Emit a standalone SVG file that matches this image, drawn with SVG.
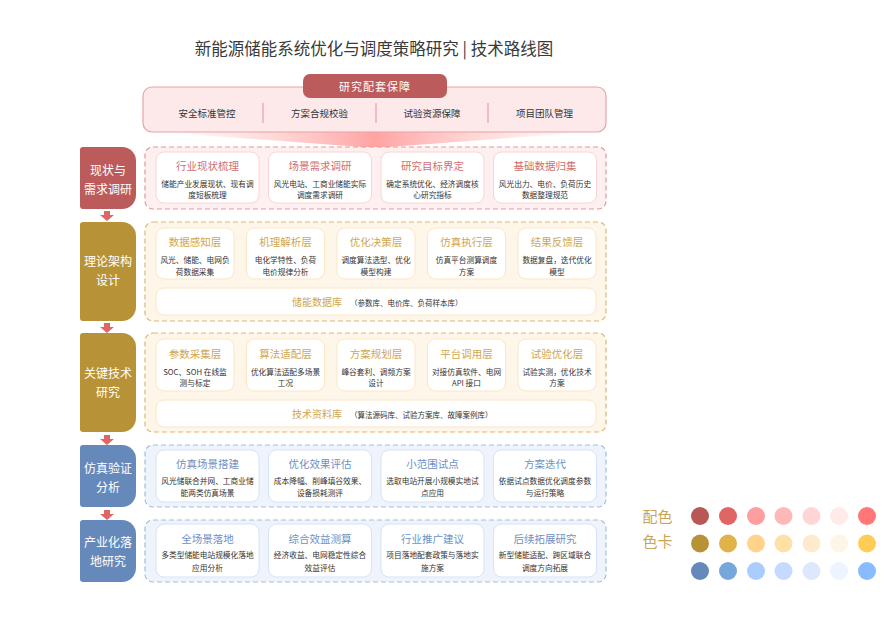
<svg xmlns="http://www.w3.org/2000/svg" width="896" height="617" viewBox="0 0 896 617">
<defs>
<style>
text{font-family:"Noto Sans CJK SC","Noto Sans",sans-serif;dominant-baseline:central;text-anchor:middle}
.title{font-size:16.5px;fill:#3a3a3a}
.tab{font-size:11px;fill:#fff;letter-spacing:1px}
.top{font-size:9.5px;fill:#333}
.bar{font-size:12px;fill:#fff}
.ct{font-size:10.5px}
.cd{font-size:7.7px;fill:#333}
.r1 .ct{fill:#d06e6e}.r2 .ct,.r3 .ct{fill:#cfa64f}.r4 .ct,.r5 .ct{fill:#6f90c2}
.cont{stroke-width:1.2;stroke-dasharray:5 3}
.r1 .cont{fill:#fef0f1;stroke:#e39797}
.r2 .cont,.r3 .cont{fill:#fff6ea;stroke:#dcb877}
.r4 .cont,.r5 .cont{fill:#eef3fc;stroke:#a6bde2}
.card{fill:#fff;stroke-width:1}
.r1 .card{stroke:#fad4d4}.r2 .card,.r3 .card{stroke:#fde6c6}.r4 .card,.r5 .card{stroke:#d6e3f8}
.lib{font-size:10px;fill:#cfa64f;text-anchor:start}
.libs{font-size:7.5px;fill:#333}
.pal{font-size:15px;fill:#c9a457}
.rarrow{fill:#e06666}
.garrow{fill:#e3b24a}
</style>
<linearGradient id="fun" x1="0" x2="1" y1="0" y2="0">
<stop offset="0" stop-color="#ffc8c8" stop-opacity="0"/>
<stop offset="0.5" stop-color="#ffa3a3"/>
<stop offset="1" stop-color="#ffc8c8" stop-opacity="0"/>
</linearGradient>
</defs>
<rect width="896" height="617" fill="#fff"/>
<text class="title" x="374" y="48">新能源储能系统优化与调度策略研究 | 技术路线图</text>

<g id="support">
<polygon points="160,132 590,132 375,148" fill="url(#fun)"/>
<rect x="143" y="87" width="463" height="45" rx="9" fill="#fde9ea" stroke="#e9a2a5" stroke-width="1.2"/>
<rect x="303" y="74" width="144" height="24" rx="7" fill="#bb5b5b"/>
<text class="tab" x="375" y="86">研究配套保障</text>
<g stroke="#e6a3a3" stroke-width="1.2">
<line x1="263" y1="103" x2="263" y2="123"/><line x1="376" y1="103" x2="376" y2="123"/><line x1="488" y1="103" x2="488" y2="123"/>
</g>
<text class="top" x="207" y="113">安全标准管控</text>
<text class="top" x="319.5" y="113">方案合规校验</text>
<text class="top" x="432" y="113">试验资源保障</text>
<text class="top" x="544.5" y="113">项目团队管理</text>
</g>

<g id="connectors">
<path class="rarrow" d="M104,211h6v4h4l-7,6l-7,-6h4z"/>
<path class="rarrow" d="M104,323h6v4h4l-7,6l-7,-6h4z"/>
<path class="rarrow" d="M104,435h6v4h4l-7,6l-7,-6h4z"/>
<path class="rarrow" d="M104,510h6v4h4l-7,6l-7,-6h4z"/>
<path class="garrow" d="M236,252.5h4v-3l4.5,4.5l-4.5,4.5v-3h-4z"/>
<path class="garrow" d="M326.5,252.5h4v-3l4.5,4.5l-4.5,4.5v-3h-4z"/>
<path class="garrow" d="M417,252.5h4v-3l4.5,4.5l-4.5,4.5v-3h-4z"/>
<path class="garrow" d="M507.5,252.5h4v-3l4.5,4.5l-4.5,4.5v-3h-4z"/>
<path class="garrow" d="M236,363.5h4v-3l4.5,4.5l-4.5,4.5v-3h-4z"/>
<path class="garrow" d="M326.5,363.5h4v-3l4.5,4.5l-4.5,4.5v-3h-4z"/>
<path class="garrow" d="M417,363.5h4v-3l4.5,4.5l-4.5,4.5v-3h-4z"/>
<path class="garrow" d="M507.5,363.5h4v-3l4.5,4.5l-4.5,4.5v-3h-4z"/>
</g>

<g id="row1" class="r1">
<path d="M80,150a3,3 0 0 1 3,-3H122a14,14 0 0 1 14,14V195a14,14 0 0 1 -14,14H83a3,3 0 0 1 -3,-3Z" fill="#bb5b5b"/>
<text class="bar" x="108" y="169">现状与</text>
<text class="bar" x="108" y="188">需求调研</text>
<rect class="cont" x="145" y="147" width="461" height="62" rx="8"/>
<g id="r1c1"><rect class="card" x="156" y="152" width="103" height="51" rx="8"/><text class="ct" x="207.5" y="165">行业现状梳理</text><text class="cd" x="207.5" y="183">储能产业发展现状、现有调</text><text class="cd" x="207.5" y="194.5">度短板梳理</text></g>
<g id="r1c2"><rect class="card" x="268.5" y="152" width="103" height="51" rx="8"/><text class="ct" x="320" y="165">场景需求调研</text><text class="cd" x="320" y="183">风光电站、工商业储能实际</text><text class="cd" x="320" y="194.5">调度需求调研</text></g>
<g id="r1c3"><rect class="card" x="381" y="152" width="103" height="51" rx="8"/><text class="ct" x="432.5" y="165">研究目标界定</text><text class="cd" x="432.5" y="183">确定系统优化、经济调度核</text><text class="cd" x="432.5" y="194.5">心研究指标</text></g>
<g id="r1c4"><rect class="card" x="493.5" y="152" width="103" height="51" rx="8"/><text class="ct" x="545" y="165">基础数据归集</text><text class="cd" x="545" y="183">风光出力、电价、负荷历史</text><text class="cd" x="545" y="194.5">数据整理规范</text></g>
</g>

<g id="row2" class="r2">
<path d="M80,225a3,3 0 0 1 3,-3H122a14,14 0 0 1 14,14V307a14,14 0 0 1 -14,14H83a3,3 0 0 1 -3,-3Z" fill="#b89236"/>
<text class="bar" x="108" y="260">理论架构</text>
<text class="bar" x="108" y="279">设计</text>
<rect class="cont" x="145" y="222" width="461" height="99" rx="8"/>
<g id="r2c1"><rect class="card" x="156" y="228" width="78" height="51" rx="8"/><text class="ct" x="195" y="241.5">数据感知层</text><text class="cd" x="195" y="259">风光、储能、电网负</text><text class="cd" x="195" y="271">荷数据采集</text></g>
<g id="r2c2"><rect class="card" x="246.5" y="228" width="78" height="51" rx="8"/><text class="ct" x="285.5" y="241.5">机理解析层</text><text class="cd" x="285.5" y="259">电化学特性、负荷</text><text class="cd" x="285.5" y="271">电价规律分析</text></g>
<g id="r2c3"><rect class="card" x="337" y="228" width="78" height="51" rx="8"/><text class="ct" x="376" y="241.5">优化决策层</text><text class="cd" x="376" y="259">调度算法选型、优化</text><text class="cd" x="376" y="271">模型构建</text></g>
<g id="r2c4"><rect class="card" x="427.5" y="228" width="78" height="51" rx="8"/><text class="ct" x="466.5" y="241.5">仿真执行层</text><text class="cd" x="466.5" y="259">仿真平台测算调度</text><text class="cd" x="466.5" y="271">方案</text></g>
<g id="r2c5"><rect class="card" x="518" y="228" width="78" height="51" rx="8"/><text class="ct" x="557" y="241.5">结果反馈层</text><text class="cd" x="557" y="259">数据复盘，迭代优化</text><text class="cd" x="557" y="271">模型</text></g>
<g id="r2db"><rect class="card" x="156" y="288" width="440" height="27" rx="8"/><text class="lib" x="292" y="301.5">储能数据库<tspan class="libs" dx="8">（参数库、电价库、负荷样本库）</tspan></text></g>
</g>

<g id="row3" class="r3">
<path d="M80,336a3,3 0 0 1 3,-3H122a14,14 0 0 1 14,14V418a14,14 0 0 1 -14,14H83a3,3 0 0 1 -3,-3Z" fill="#b89236"/>
<text class="bar" x="108" y="372">关键技术</text>
<text class="bar" x="108" y="391">研究</text>
<rect class="cont" x="145" y="333" width="461" height="99" rx="8"/>
<g id="r3c1"><rect class="card" x="156" y="339" width="78" height="52" rx="8"/><text class="ct" x="195" y="353">参数采集层</text><text class="cd" x="195" y="371">SOC、SOH 在线监</text><text class="cd" x="195" y="382.5">测与标定</text></g>
<g id="r3c2"><rect class="card" x="246.5" y="339" width="78" height="52" rx="8"/><text class="ct" x="285.5" y="353">算法适配层</text><text class="cd" x="285.5" y="371">优化算法适配多场景</text><text class="cd" x="285.5" y="382.5">工况</text></g>
<g id="r3c3"><rect class="card" x="337" y="339" width="78" height="52" rx="8"/><text class="ct" x="376" y="353">方案规划层</text><text class="cd" x="376" y="371">峰谷套利、调频方案</text><text class="cd" x="376" y="382.5">设计</text></g>
<g id="r3c4"><rect class="card" x="427.5" y="339" width="78" height="52" rx="8"/><text class="ct" x="466.5" y="353">平台调用层</text><text class="cd" x="466.5" y="371">对接仿真软件、电网</text><text class="cd" x="466.5" y="382.5">API 接口</text></g>
<g id="r3c5"><rect class="card" x="518" y="339" width="78" height="52" rx="8"/><text class="ct" x="557" y="353">试验优化层</text><text class="cd" x="557" y="371">试验实测，优化技术</text><text class="cd" x="557" y="382.5">方案</text></g>
<g id="r3lib"><rect class="card" x="156" y="400" width="440" height="27" rx="8"/><text class="lib" x="292" y="413.5">技术资料库<tspan class="libs" dx="8">（算法源码库、试验方案库、故障案例库）</tspan></text></g>
</g>

<g id="row4" class="r4">
<path d="M80,448a3,3 0 0 1 3,-3H122a14,14 0 0 1 14,14V493a14,14 0 0 1 -14,14H83a3,3 0 0 1 -3,-3Z" fill="#6689bb"/>
<text class="bar" x="108" y="467">仿真验证</text>
<text class="bar" x="108" y="486">分析</text>
<rect class="cont" x="145" y="445" width="461" height="62" rx="8"/>
<g id="r4c1"><rect class="card" x="156" y="450" width="103" height="52" rx="8"/><text class="ct" x="207.5" y="463">仿真场景搭建</text><text class="cd" x="207.5" y="480">风光储联合并网、工商业储</text><text class="cd" x="207.5" y="492">能两类仿真场景</text></g>
<g id="r4c2"><rect class="card" x="268.5" y="450" width="103" height="52" rx="8"/><text class="ct" x="320" y="463">优化效果评估</text><text class="cd" x="320" y="480">成本降幅、削峰填谷效果、</text><text class="cd" x="320" y="492">设备损耗测评</text></g>
<g id="r4c3"><rect class="card" x="381" y="450" width="103" height="52" rx="8"/><text class="ct" x="432.5" y="463">小范围试点</text><text class="cd" x="432.5" y="480">选取电站开展小规模实地试</text><text class="cd" x="432.5" y="492">点应用</text></g>
<g id="r4c4"><rect class="card" x="493.5" y="450" width="103" height="52" rx="8"/><text class="ct" x="545" y="463">方案迭代</text><text class="cd" x="545" y="480">依据试点数据优化调度参数</text><text class="cd" x="545" y="492">与运行策略</text></g>
</g>

<g id="row5" class="r5">
<path d="M80,523a3,3 0 0 1 3,-3H122a14,14 0 0 1 14,14V568a14,14 0 0 1 -14,14H83a3,3 0 0 1 -3,-3Z" fill="#6689bb"/>
<text class="bar" x="108" y="541.5">产业化落</text>
<text class="bar" x="108" y="560.5">地研究</text>
<rect class="cont" x="145" y="520" width="461" height="62" rx="8"/>
<g id="r5c1"><rect class="card" x="156" y="524" width="103" height="53" rx="8"/><text class="ct" x="207.5" y="538">全场景落地</text><text class="cd" x="207.5" y="554.5">多类型储能电站规模化落地</text><text class="cd" x="207.5" y="567">应用分析</text></g>
<g id="r5c2"><rect class="card" x="268.5" y="524" width="103" height="53" rx="8"/><text class="ct" x="320" y="538">综合效益测算</text><text class="cd" x="320" y="554.5">经济收益、电网稳定性综合</text><text class="cd" x="320" y="567">效益评估</text></g>
<g id="r5c3"><rect class="card" x="381" y="524" width="103" height="53" rx="8"/><text class="ct" x="432.5" y="538">行业推广建议</text><text class="cd" x="432.5" y="554.5">项目落地配套政策与落地实</text><text class="cd" x="432.5" y="567">施方案</text></g>
<g id="r5c4"><rect class="card" x="493.5" y="524" width="103" height="53" rx="8"/><text class="ct" x="545" y="538">后续拓展研究</text><text class="cd" x="545" y="554.5">新型储能适配、跨区域联合</text><text class="cd" x="545" y="567">调度方向拓展</text></g>
</g>

<g id="palette">
<text class="pal" x="657.5" y="515.5">配色</text>
<text class="pal" x="657.5" y="540.5">色卡</text>
<g>
<circle cx="700" cy="516" r="9" fill="#b95757"/><circle cx="728" cy="516" r="9" fill="#e06666"/><circle cx="756" cy="516" r="9" fill="#ff9e9e"/><circle cx="783.5" cy="516" r="9" fill="#ffb7b7"/><circle cx="811.5" cy="516" r="9" fill="#ffd5d5"/><circle cx="839" cy="516" r="9" fill="#ffe9e9"/><circle cx="867" cy="516" r="9" fill="#ff7777"/>
<circle cx="700" cy="543.5" r="9" fill="#b89236"/><circle cx="728" cy="543.5" r="9" fill="#e0b248"/><circle cx="756" cy="543.5" r="9" fill="#ffd48a"/><circle cx="783.5" cy="543.5" r="9" fill="#ffe0a8"/><circle cx="811.5" cy="543.5" r="9" fill="#ffeacf"/><circle cx="839" cy="543.5" r="9" fill="#fff5e6"/><circle cx="867" cy="543.5" r="9" fill="#ffcc55"/>
<circle cx="700" cy="571" r="9" fill="#6689bb"/><circle cx="728" cy="571" r="9" fill="#77a6dd"/><circle cx="756" cy="571" r="9" fill="#aaccff"/><circle cx="783.5" cy="571" r="9" fill="#c4dbff"/><circle cx="811.5" cy="571" r="9" fill="#dde8ff"/><circle cx="839" cy="571" r="9" fill="#eef4ff"/><circle cx="867" cy="571" r="9" fill="#88bbff"/>
</g>
</g>
</svg>
